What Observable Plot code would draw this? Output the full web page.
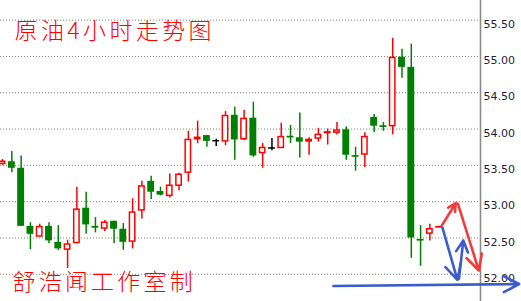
<!DOCTYPE html>
<html><head><meta charset="utf-8">
<script src="https://cdn.jsdelivr.net/npm/d3@7"></script>
<script src="https://cdn.jsdelivr.net/npm/@observablehq/plot@0.6"></script>
<style>
html,body{margin:0;padding:0;background:#fff;}
</style></head><body><div id="chart"></div>
<script>
const opens  = [53.52,53.55,53.46,52.66,52.52,52.66,52.44,52.34,52.43,52.91,52.66,52.63,52.73,52.62,52.45,52.88,53.28,53.14,53.08,53.22,53.40,53.86,53.91,53.84,53.83,54.19,53.86,54.15,53.67,53.74,53.74,53.90,53.88,53.83,53.87,53.945,53.95,53.99,53.635,53.65,54.16,54.045,54.04,54.99,54.85,52.48,52.56,52.645];
const closes = [53.55,53.46,52.66,52.55,52.65,52.46,52.35,52.41,52.89,52.68,52.635,52.71,52.62,52.44,52.85,53.21,53.13,53.09,53.22,53.37,53.85,53.88,53.83,53.84,54.18,53.85,54.14,53.63,53.74,53.74,53.89,53.895,53.82,53.85,53.92,53.955,53.98,53.64,53.63,53.89,54.04,54.04,54.98,54.85,52.50,52.475,52.62,52.65];
const highs  = [53.58,53.69,53.63,52.71,52.69,52.71,52.67,52.47,53.20,53.13,52.78,52.74,52.73,52.70,53.04,53.28,53.35,53.20,53.38,53.39,53.97,54.11,53.91,53.86,54.24,54.30,54.26,54.37,53.80,53.87,54.08,54.05,54.22,53.88,54.01,54.00,54.09,54.03,53.75,53.95,54.20,54.09,55.25,55.10,55.17,52.67,52.69,52.65];
const lows   = [53.50,53.40,52.66,52.34,52.52,52.42,52.33,52.08,52.42,52.55,52.57,52.59,52.42,52.33,52.35,52.76,53.03,53.08,53.05,53.15,53.27,53.80,53.75,53.76,53.77,53.57,53.84,53.61,53.46,53.70,53.74,53.80,53.60,53.64,53.82,53.78,53.92,53.57,53.42,53.47,53.95,53.97,53.92,54.70,52.22,52.11,52.46,52.64];
const yTicks = [52.0,52.5,53.0,53.5,54.0,54.5,55.0,55.5];
const title  = "原油4小时走势图";
const credit = "舒浩闻工作室制";
// annotation arrows (candle index / price units)
const arrowX1 = [47.29,49.02,47.36,49.13,35.62];
const arrowY1 = [52.672,52.971,52.640,51.938,51.839];
const arrowX2 = [48.78,51.27,48.96,49.60,55.61];
const arrowY2 = [52.979,52.052,51.924,52.466,51.866];
const arrowKind = ["red","red","blue","blue","blue"];

const candles = opens.map((o,i)=>({i, open:o, close:closes[i], high:highs[i], low:lows[i]}));
const ups = candles.filter(d=>d.close>d.open);
const downs = candles.filter(d=>d.close<d.open);
const flats = candles.filter(d=>d.close===d.open);
const dojisGreen = downs.filter(d=>Math.abs(d.open-d.close)<0.012);
const arrows = arrowX1.map((_,k)=>({x1:arrowX1[k],y1:arrowY1[k],x2:arrowX2[k],y2:arrowY2[k],kind:arrowKind[k]}));

const xDomain = [-0.221, 51.45];
const hw = 0.37;
const RED="#ff0000", GREEN="#008000";

const chart = Plot.plot({
  width:521, height:301,
  marginLeft:0, marginRight:41, marginTop:0, marginBottom:0,
  x:{domain:xDomain, axis:null},
  y:{domain:[51.625,55.771], axis:null},
  style:{background:"#fff", overflow:"visible"},
  marks:[
    Plot.ruleY(yTicks,{stroke:"#808080", strokeDasharray:"1,2", strokeWidth:1}),
    Plot.ruleX([xDomain[1]],{stroke:"#8a8a8a", strokeWidth:1.6}),
    Plot.text(yTicks,{y:d=>d, frameAnchor:"right", textAnchor:"start", dx:3, dy:4, text:d=>d.toFixed(2), fontSize:11, fontFamily:"DejaVu Sans", fill:"#1e1e3c"}),
    Plot.ruleX(downs,{x:"i", y1:"low", y2:"high", stroke:GREEN, strokeWidth:1.5}),
    Plot.ruleX(ups,{x:"i", y1:"low", y2:"high", stroke:RED, strokeWidth:1.5}),
    Plot.ruleX(flats,{x:"i", y1:"low", y2:"high", stroke:"#000", strokeWidth:1.5}),
    Plot.rect(downs,{x1:d=>d.i-hw, x2:d=>d.i+hw, y1:"open", y2:"close", fill:GREEN}),
    Plot.rect(ups,{x1:d=>d.i-hw, x2:d=>d.i+hw, y1:"open", y2:"close", fill:"#fff", stroke:RED, strokeWidth:1.5, insetLeft:0.75, insetRight:0.75}),
    Plot.ruleY(dojisGreen,{y:"close", x1:d=>d.i-hw, x2:d=>d.i+hw, stroke:GREEN, strokeWidth:1.6}),
    Plot.ruleY(flats,{y:"close", x1:d=>d.i-hw, x2:d=>d.i+hw, stroke:"#000", strokeWidth:1.5}),
    Plot.arrow(arrows.filter(a=>a.kind==="red"),{x1:"x1",y1:"y1",x2:"x2",y2:"y2", stroke:"#f23c3c", strokeWidth:2.6, headLength:10, headAngle:55}),
    Plot.arrow(arrows.filter(a=>a.kind==="blue"),{x1:"x1",y1:"y1",x2:"x2",y2:"y2", stroke:"#3d5ccc", strokeWidth:2.6, headLength:10, headAngle:55}),
    Plot.text([title],{frameAnchor:"top-left", dx:14, dy:31, text:d=>d, fill:RED, fontSize:23, fontWeight:300, fontFamily:"Noto Sans CJK SC", textAnchor:"start", lineAnchor:"middle"}),
    Plot.text([credit],{frameAnchor:"top-left", dx:12, dy:282, text:d=>d, fill:RED, fontSize:23, fontWeight:300, fontFamily:"Noto Sans CJK SC", textAnchor:"start", lineAnchor:"middle"})
  ]
});
d3.select(chart).selectAll("text")
  .filter(function(){ return this.textContent===title; }).attr("letter-spacing","3.4px");
d3.select(chart).selectAll("text")
  .filter(function(){ return this.textContent===credit; }).attr("letter-spacing","3.2px");
document.getElementById("chart").appendChild(chart);
</script></body></html>
